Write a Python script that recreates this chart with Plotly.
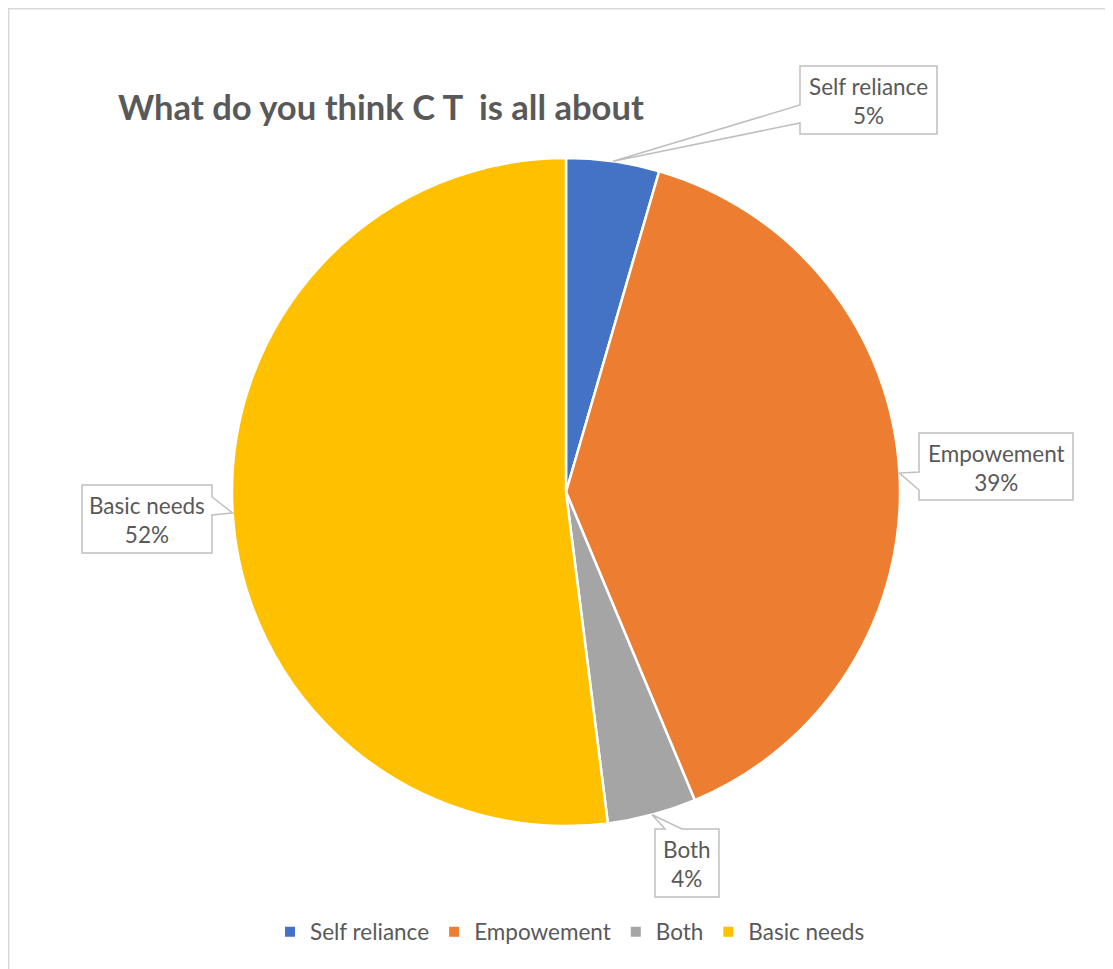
import math
import plotly.graph_objects as go

# ---- data ----
labels = ["Self reliance", "Empowement", "Both", "Basic needs"]
values = [4.5, 39.2, 4.3, 52.0]
colors = ["#4472C4", "#ED7D31", "#A5A5A5", "#FFC000"]
title_text = "What do you think C T  is all about"

W, H = 1113, 969
OX, OY = 8, 8            # page offset of the plot (body margin)
CX, CY, R = 566, 492, 334  # pie placement in page pixels


def fx(x):
    return (x - OX) / W


def fy(y):
    return 1 - (y - OY) / H


def path(points):
    return "M " + " L ".join(f"{fx(x):.5f},{fy(y):.5f}" for x, y in points) + " Z"


total = sum(values)
pcts = [int(v / total * 100 + 0.5 + 1e-9) for v in values]  # round half up like Excel

# slice mid-angle tips on the pie edge (clockwise from 12 o'clock)
tips = []
acc = 0.0
for v in values:
    mid = (acc + v / 2) / total * 2 * math.pi
    tips.append((CX + R * math.sin(mid), CY - R * math.cos(mid)))
    acc += v

fig = go.Figure()
fig.add_trace(go.Pie(
    labels=labels, values=values, sort=False, direction="clockwise", rotation=0,
    marker=dict(colors=colors, line=dict(color="white", width=2.5)),
    textinfo="none", hoverinfo="label+percent",
    domain=dict(x=[fx(CX - R), fx(CX + R)], y=[fy(CY + R), fy(CY - R)]),
))

# callout boxes (x0, y0, x1, y1) in page pixels
boxes = [(800, 66, 937, 134), (919, 433, 1073, 500), (655, 829, 719, 897), (82, 485, 212, 553)]

polys = []
b = boxes[0]; t = tips[0]
polys.append([(b[0], b[1]), (b[2], b[1]), (b[2], b[3]), (b[0], b[3]), (b[0], 123), t, (b[0], 105)])
b = boxes[1]; t = tips[1]
polys.append([(b[0], b[1]), (b[2], b[1]), (b[2], b[3]), (b[0], b[3]), (b[0], 490), t, (b[0], 472)])
b = boxes[2]; t = tips[2]
polys.append([(b[0], b[1]), (665, b[1]), t, (682, b[1]), (b[2], b[1]), (b[2], b[3]), (b[0], b[3])])
b = boxes[3]; t = tips[3]
polys.append([(b[0], b[1]), (b[2], b[1]), (b[2], 497), t, (b[2], 515), (b[2], b[3]), (b[0], b[3])])

shapes = [dict(type="rect", xref="paper", yref="paper", x0=fx(8.75), y0=fy(1100), x1=fx(1200), y1=fy(8.75),
               line=dict(color="#D9D9D9", width=1.5), fillcolor="rgba(0,0,0,0)", layer="below")]
for p in polys:
    shapes.append(dict(type="path", xref="paper", yref="paper", path=path(p),
                       line=dict(color="#BFBFBF", width=1.5), fillcolor="white", layer="above"))

annotations = []
for lab, pc, b in zip(labels, pcts, boxes):
    annotations.append(dict(
        x=fx((b[0] + b[2]) / 2), y=fy((b[1] + b[3]) / 2 + 1), xref="paper", yref="paper",
        text=f"{lab}<br>{pc}%", showarrow=False, align="center",
        xanchor="center", yanchor="middle",
        font=dict(family="Lato", size=22.5, color="#595959"),
    ))

annotations.append(dict(
    x=fx(116), y=fy(106), xref="paper", yref="paper", xanchor="left", yanchor="middle",
    text=f"<b>{title_text}</b>", showarrow=False,
    font=dict(family="Lato", size=34.6, color="#595959"),
))

fig.update_layout(
    width=W, height=H,
    margin=dict(l=0, r=0, t=0, b=0),
    paper_bgcolor="white", plot_bgcolor="white",
    shapes=shapes, annotations=annotations,
    showlegend=True,
    legend=dict(orientation="h", x=fx(570), xanchor="center", y=fy(932), yanchor="middle",
                font=dict(family="Lato", size=22.5, color="#595959"), traceorder="normal",
                itemsizing="constant"),
)

fig.write_html("out.html")
